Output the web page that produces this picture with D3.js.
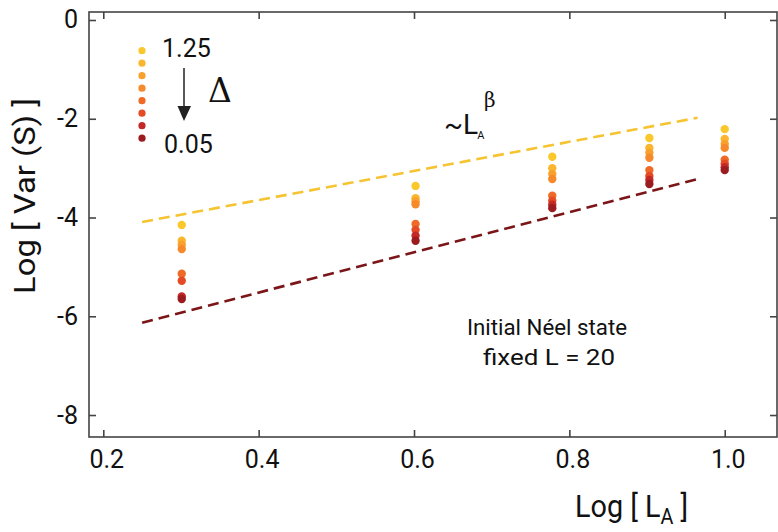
<!DOCTYPE html>
<html><head><meta charset="utf-8">
<script src="https://cdn.jsdelivr.net/npm/d3@7"></script>
<style>body{margin:0;background:#fff}svg{display:block}text{font-family:Roboto,"Open Sans",sans-serif;fill:#111}</style>
</head><body><svg id="c" width="778" height="532"></svg>
<script>
// ---- data ----
const logLA = [0.301, 0.602, 0.778, 0.903, 1.0];
const deltaLabels = ["1.25", "0.05"];
const seriesColors = ["#fbc82c", "#fbb62f", "#f9a12f", "#f68a2b", "#f06a27", "#e44a24", "#c42827", "#9b1c20"];
const varD0 = [-4.15, -3.36, -2.77, -2.39, -2.21];
const varD1 = [-4.47, -3.61, -3.00, -2.59, -2.41];
const varD2 = [-4.55, -3.67, -3.12, -2.69, -2.51];
const varD3 = [-4.64, -3.73, -3.22, -2.79, -2.59];
const varD4 = [-5.14, -4.13, -3.56, -3.04, -2.83];
const varD5 = [-5.28, -4.25, -3.66, -3.16, -2.91];
const varD6 = [-5.60, -4.37, -3.74, -3.24, -2.98];
const varD7 = [-5.65, -4.47, -3.81, -3.32, -3.04];
const seriesVals = [varD0, varD1, varD2, varD3, varD4, varD5, varD6, varD7];
const fitUpper = [[0.25, -4.09], [0.965, -1.98]];
const fitLower = [[0.25, -6.13], [0.97, -3.20]];
const xTicks = [0.2, 0.4, 0.6, 0.8, 1.0];
const yTicks = [0, -2, -4, -6, -8];

// ---- layout ----
const svg = d3.select("#c");
const L = 89, R = 777, T = 12, B = 437;
const x = d3.scaleLinear().domain([0.1816, 1.0673]).range([L, R]);
const y = d3.scaleLinear().domain([-8.445, 0.162]).range([B, T]);

// dashed fits
const line = d3.line().x(d => x(d[0])).y(d => y(d[1]));
svg.append("path").attr("d", line(fitUpper)).attr("fill", "none")
  .attr("stroke", "#f6c331").attr("stroke-width", 2.6).attr("stroke-dasharray", "11,6");
svg.append("path").attr("d", line(fitLower)).attr("fill", "none")
  .attr("stroke", "#7c1517").attr("stroke-width", 2.6).attr("stroke-dasharray", "11,6");

// points
seriesVals.forEach((vals, i) => {
  svg.append("g").selectAll("circle").data(vals).join("circle")
    .attr("cx", (d, j) => x(logLA[j])).attr("cy", d => y(d)).attr("r", 4.2)
    .attr("fill", seriesColors[i]);
});

// frame
const ax = "#444";
svg.append("rect").attr("x", L).attr("y", T).attr("width", R - L).attr("height", B - T)
  .attr("fill", "none").attr("stroke", ax).attr("stroke-width", 1.6);
const gx = svg.append("g").attr("transform", `translate(0,${B})`)
  .call(d3.axisBottom(x).tickValues(xTicks).tickFormat(d3.format(".1f")).tickSizeInner(-7).tickSizeOuter(0).tickPadding(13));
const gxt = svg.append("g").attr("transform", `translate(0,${T})`)
  .call(d3.axisTop(x).tickValues(xTicks).tickFormat("").tickSizeInner(-7).tickSizeOuter(0));
const gy = svg.append("g").attr("transform", `translate(${L},0)`)
  .call(d3.axisLeft(y).tickValues(yTicks).tickFormat(d => d === 0 ? "0" : "-" + Math.abs(d)).tickSizeInner(-7).tickSizeOuter(0).tickPadding(11));
const gyr = svg.append("g").attr("transform", `translate(${R},0)`)
  .call(d3.axisRight(y).tickValues(yTicks).tickFormat("").tickSizeInner(-7).tickSizeOuter(0));
[gx, gxt, gy, gyr].forEach(g => {
  g.select(".domain").remove();
  g.selectAll("line").attr("stroke", ax).attr("stroke-width", 1.6);
  g.selectAll("text").style("font-size", "25px").attr("fill", "#111");
});
gx.selectAll("text").attr("dx", 3);

// axis titles
svg.append("text").attr("transform", "translate(35,196) rotate(-90)").attr("text-anchor", "middle")
  .style("font-size", "29px").attr("textLength", 196).attr("lengthAdjust", "spacingAndGlyphs").text("Log [ Var (S) ]");
const xt = svg.append("text").attr("transform", "translate(575,517) scale(0.9,1)").style("font-size", "32px");
xt.append("tspan").text("Log [ L");
xt.append("tspan").attr("dy", 7).style("font-size", "22px").text("A");
xt.append("tspan").attr("dy", -7).text(" ]");

// legend
seriesColors.forEach((c, i) => {
  svg.append("circle").attr("cx", 142).attr("cy", 50.7 + i * 12.5).attr("r", 3.6).attr("fill", c);
});
svg.append("text").attr("x", 162).attr("y", 57).style("font-size", "25px").text(deltaLabels[0]);
svg.append("text").attr("x", 164).attr("y", 153).style("font-size", "25px").text(deltaLabels[1]);
svg.append("line").attr("x1", 184).attr("x2", 184).attr("y1", 68).attr("y2", 110).attr("stroke", "#222").attr("stroke-width", 1.5);
svg.append("path").attr("d", "M177.5,106 L191,106 L184,121 Z").attr("fill", "#222");
svg.append("text").attr("x", 208).attr("y", 102).style("font-size", "33px")
  .style("font-family", "'DejaVu Serif','Liberation Serif',serif").text("Δ");

// scaling law label
const sl = svg.append("text").attr("x", 444).attr("y", 134).style("font-size", "28px");
sl.append("tspan").text("~L");
sl.append("tspan").attr("dx", -1).attr("dy", 5).style("font-size", "11px").text("A");
svg.append("text").attr("x", 484).attr("y", 107).style("font-size", "20px")
  .style("font-family", "'DejaVu Serif','Liberation Serif',serif").text("β");

// annotation
svg.append("text").attr("x", 547).attr("y", 335).attr("text-anchor", "middle").style("font-size", "22px").attr("textLength", 160).attr("lengthAdjust", "spacingAndGlyphs").text("Initial Néel state");
svg.append("text").attr("x", 549).attr("y", 365).attr("text-anchor", "middle").style("font-size", "22px").attr("textLength", 132).attr("lengthAdjust", "spacingAndGlyphs").text("fixed L = 20");
</script></body></html>
